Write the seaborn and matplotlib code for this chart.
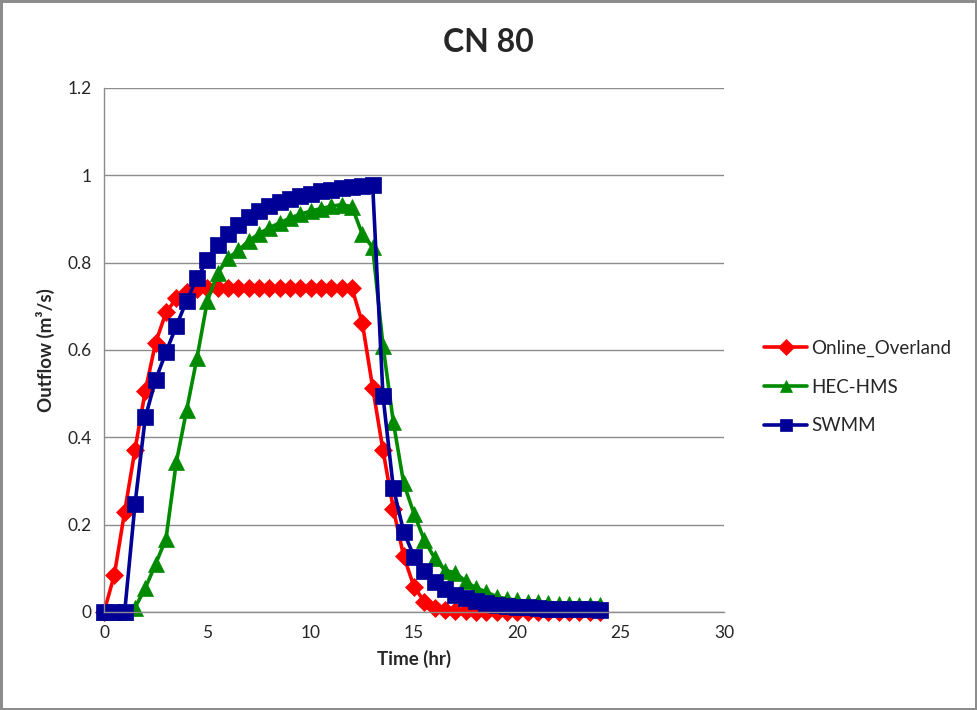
import numpy as np
import pandas as pd
import matplotlib
matplotlib.use('Agg')
import matplotlib.pyplot as plt
import seaborn as sns
from matplotlib.ticker import FuncFormatter

# Data (time step 0.5 hr)
time_hr = [0, 0.5, 1, 1.5, 2, 2.5, 3, 3.5, 4, 4.5, 5, 5.5, 6, 6.5, 7, 7.5,
           8, 8.5, 9, 9.5, 10, 10.5, 11, 11.5, 12, 12.5, 13, 13.5, 14, 14.5,
           15, 15.5, 16, 16.5, 17, 17.5, 18, 18.5, 19, 19.5, 20, 20.5, 21,
           21.5, 22, 22.5, 23, 23.5, 24]

online_overland = [0, 0.085, 0.23, 0.372, 0.507, 0.617, 0.686, 0.718, 0.733,
                   0.740, 0.741, 0.741, 0.741, 0.741, 0.741, 0.741, 0.741,
                   0.741, 0.741, 0.741, 0.741, 0.741, 0.741, 0.741, 0.741,
                   0.662, 0.514, 0.370, 0.236, 0.128, 0.058, 0.024, 0.010,
                   0.005, 0.003, 0.002, 0.001, 0.001, 0.001, 0.001, 0, 0, 0,
                   0, 0, 0, 0, 0, 0]

hec_hms = [0, 0, 0, 0.01, 0.055, 0.11, 0.168, 0.343, 0.463, 0.582, 0.712,
           0.776, 0.81, 0.828, 0.85, 0.866, 0.88, 0.891, 0.902, 0.911, 0.918,
           0.924, 0.929, 0.933, 0.928, 0.865, 0.835, 0.61, 0.435, 0.295,
           0.225, 0.165, 0.123, 0.095, 0.09, 0.07, 0.055, 0.046, 0.035, 0.03,
           0.027, 0.024, 0.022, 0.02, 0.019, 0.018, 0.017, 0.016, 0.015]

swmm = [0, 0, 0, 0.247, 0.446, 0.532, 0.595, 0.655, 0.713, 0.764, 0.806,
        0.84, 0.866, 0.886, 0.905, 0.919, 0.93, 0.939, 0.946, 0.952, 0.958,
        0.963, 0.967, 0.971, 0.974, 0.976, 0.978, 0.494, 0.284, 0.184, 0.127,
        0.093, 0.069, 0.052, 0.04, 0.031, 0.025, 0.02, 0.017, 0.014, 0.012,
        0.011, 0.009, 0.008, 0.007, 0.007, 0.006, 0.006, 0.005]

series_names = ['Online_Overland', 'HEC-HMS', 'SWMM']
series_values = [online_overland, hec_hms, swmm]

df = pd.concat([pd.DataFrame({'time': time_hr, 'flow': v, 'model': n})
                for n, v in zip(series_names, series_values)],
               ignore_index=True)

styles = {
    'Online_Overland': dict(color='#FF0000', marker='D', ms=9),
    'HEC-HMS': dict(color='#008A00', marker='^', ms=11),
    'SWMM': dict(color='#000096', marker='s', ms=11),
}

sns.set_style('white')
plt.rcParams['font.family'] = ['Lato', 'DejaVu Sans']

fig = plt.figure(figsize=(9.77, 7.10), dpi=100)
ax = fig.add_axes([104 / 977, 98 / 710, 620 / 977, 524 / 710])

for name in series_names:
    st = styles[name]
    sns.lineplot(data=df[df['model'] == name], x='time', y='flow', ax=ax,
                 color=st['color'], marker=st['marker'], markersize=st['ms'],
                 markeredgecolor=st['color'], markeredgewidth=0.5,
                 linewidth=2.6, label=name, clip_on=False)

ax.set_xlim(0, 30)
ax.set_ylim(0, 1.2)
ax.set_xticks([0, 5, 10, 15, 20, 25, 30])
ax.set_yticks([0, 0.2, 0.4, 0.6, 0.8, 1.0, 1.2])
ax.yaxis.set_major_formatter(FuncFormatter(lambda v, p: f'{v:g}'))
ax.grid(axis='y', color='#8C8C8C', linewidth=1)
ax.set_axisbelow(True)
for s in ['top', 'right']:
    ax.spines[s].set_visible(False)
for s in ['left', 'bottom']:
    ax.spines[s].set_color('#8C8C8C')
    ax.spines[s].set_linewidth(1)
ax.tick_params(axis='both', direction='out', length=5, width=1,
               color='#8C8C8C', labelsize=12.5, pad=4)

ax.set_xlabel('Time (hr)', fontsize=13.5, fontweight='bold', labelpad=7)
ax.set_ylabel('Outflow (m³/s)', fontsize=13.5, fontweight='bold', labelpad=9)
fig.text(488 / 977, 1 - 42 / 710, 'CN 80', ha='center', va='center',
         fontsize=23, fontweight='bold')

leg = ax.legend(loc='center left', bbox_to_anchor=(764 / 977, 1 - 387 / 710),
                bbox_transform=fig.transFigure, frameon=False, fontsize=13.5,
                handlelength=2.3, handletextpad=0.2, labelspacing=1.15,
                borderpad=0, borderaxespad=0, markerscale=0.85)

fig.patch.set_edgecolor('#8C8C8C')
fig.patch.set_linewidth(2.5)
fig.savefig('out.png', dpi=100, edgecolor=fig.get_edgecolor())
